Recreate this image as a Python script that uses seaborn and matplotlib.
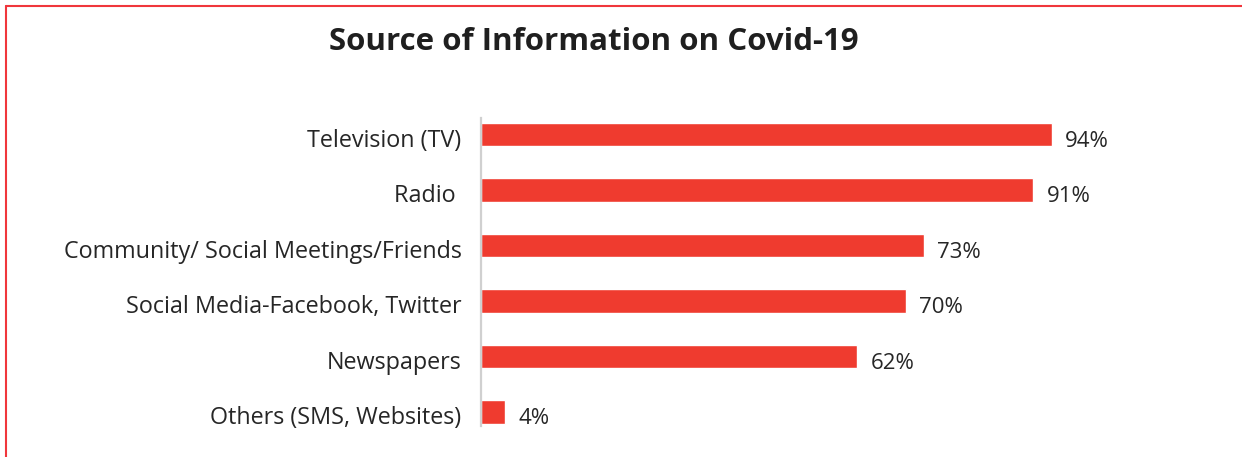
import matplotlib
matplotlib.use("Agg")
import matplotlib.pyplot as plt
from matplotlib.lines import Line2D
from matplotlib.transforms import ScaledTranslation
import seaborn as sns
import pandas as pd

# Survey results: share of respondents using each source
sources = [
    "Television (TV)",
    "Radio ",
    "Community/ Social Meetings/Friends",
    "Social Media-Facebook, Twitter",
    "Newspapers",
    "Others (SMS, Websites)",
]
shares = [94, 91, 73, 70, 62, 4]
value_labels = ["94%", "91%", "73%", "70%", "62%", "4%"]

df = pd.DataFrame({"source": sources, "share": shares})

sns.set_theme(style="white")
plt.rcParams["font.family"] = ["Open Sans", "DejaVu Sans"]

W, H = 1242, 457
fig = plt.figure(figsize=(W / 100, H / 100), dpi=100)
fig.patch.set_facecolor("white")

ax_left, ax_right = 481 / W, 1088 / W
ax_top, ax_bottom = 118 / H, 426 / H
ax = fig.add_axes([ax_left, 1 - ax_bottom, ax_right - ax_left, ax_bottom - ax_top])

bar_color = "#ef3b2f"
sns.barplot(data=df, x="share", y="source", orient="h", color=bar_color,
            saturation=1, width=0.42, ax=ax)

ax.set_xlim(0, 100)
ax.set_ylim(5.25, -0.3)

for i, (v, lab) in enumerate(zip(shares, value_labels)):
    ax.text(v + 2.2, i + 0.12, lab, va="center", ha="left",
            fontsize=16, color="#262626")

ax.set_xlabel("")
ax.set_ylabel("")
ax.set_xticks([])
ax.tick_params(axis="y", length=0, pad=14, labelsize=16.8, labelcolor="#262626")
# nudge category labels a little below the bar centres
shift = ScaledTranslation(0, -3 / 100, fig.dpi_scale_trans)
for t in ax.get_yticklabels():
    t.set_transform(t.get_transform() + shift)
for side in ["top", "right", "bottom"]:
    ax.spines[side].set_visible(False)
ax.spines["left"].set_color("#d0d0d0")
ax.spines["left"].set_linewidth(1.6)

fig.text(594 / W, 1 - 42 / H, "Source of Information on Covid-19",
         ha="center", va="center", fontsize=22.5, fontweight="bold",
         color="#1f1f1f")

# Red frame along the top and left edges
frame = "#f0363c"
fig.add_artist(Line2D([6 / W, 1], [1 - 6 / H, 1 - 6 / H], color=frame,
                      lw=1.5, transform=fig.transFigure))
fig.add_artist(Line2D([6 / W, 6 / W], [0, 1 - 6 / H], color=frame,
                      lw=1.5, transform=fig.transFigure))

fig.savefig("out.png", dpi=100, facecolor="white")
